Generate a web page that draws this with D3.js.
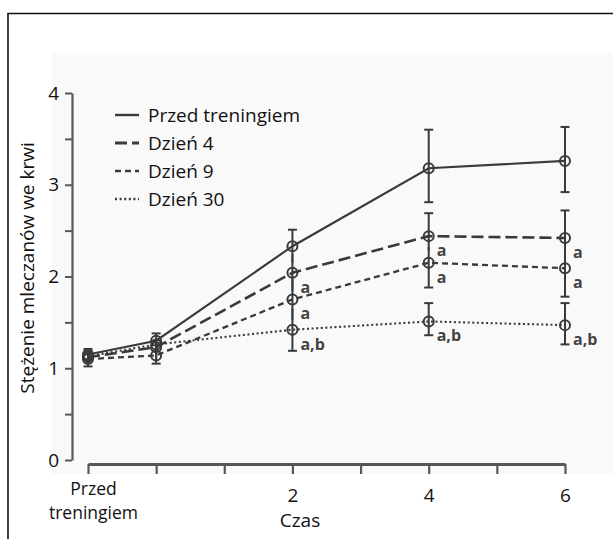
<!DOCTYPE html>
<html>
<head>
<meta charset="utf-8">
<script src="https://cdn.jsdelivr.net/npm/d3@7/dist/d3.min.js"></script>
<style>
  html, body { margin: 0; padding: 0; background: #fff; }
  svg { display: block; }
  text { font-family: "Open Sans", "Noto Sans", sans-serif; fill: #111; }
</style>
</head>
<body>
<script>
// Time points (days; -1 stands for the pre-training measurement)
const days = [-1, 0, 2, 4, 6];

// Blood lactate concentration, one array per group
const przedTreningiem = [1.15, 1.30, 2.33, 3.18, 3.26];
const dzien4 = [1.12, 1.23, 2.04, 2.44, 2.42];
const dzien9 = [1.10, 1.14, 1.75, 2.15, 2.09];
const dzien30 = [1.13, 1.26, 1.42, 1.51, 1.47];

// Error bar bounds (upper / lower) per group
const przedHi = [1.21, 1.38, 2.51, 3.60, 3.63];
const przedLo = [1.08, 1.20, 2.15, 2.81, 2.92];
const d4Hi = [1.18, 1.30, 2.24, 2.69, 2.72];
const d4Lo = [1.05, 1.14, 1.84, 2.28, 2.24];
const d9Hi = [1.17, 1.22, 1.97, 2.32, 2.28];
const d9Lo = [1.02, 1.05, 1.53, 1.88, 1.78];
const d30Hi = [1.19, 1.32, 1.65, 1.71, 1.71];
const d30Lo = [1.06, 1.10, 1.19, 1.36, 1.26];

// Significance markers
const d4Sig = [null, null, "a", "a", "a"];
const d9Sig = [null, null, "a", "a", "a"];
const d30Sig = [null, null, "a,b", "a,b", "a,b"];

// Axis ticks
const xTicks = [-1, 0, 1, 2, 3, 4, 5, 6];
const xTickLabels = { "-1": ["Przed", "treningiem"], "2": ["2"], "4": ["4"], "6": ["6"] };
const yTicks = [0, 0.5, 1, 1.5, 2, 2.5, 3, 3.5, 4];
const yTickLabels = [0, 1, 2, 3, 4];

const legendNames = ["Przed treningiem", "Dzień 4", "Dzień 9", "Dzień 30"];

const series = [
  { name: legendNames[0], values: przedTreningiem, hi: przedHi, lo: przedLo, sig: null, dash: null, width: 2.1 },
  { name: legendNames[1], values: dzien4, hi: d4Hi, lo: d4Lo, sig: d4Sig, dash: "12,5", width: 2.6 },
  { name: legendNames[2], values: dzien9, hi: d9Hi, lo: d9Lo, sig: d9Sig, dash: "6,4", width: 2.3 },
  { name: legendNames[3], values: dzien30, hi: d30Hi, lo: d30Lo, sig: d30Sig, dash: "2,2.6", width: 2.1 }
];

const W = 613, H = 539;
const ink = "#3a3a3a";
const axisInk = "#585858";
const font = "'Open Sans', sans-serif";

const svg = d3.select("body").append("svg").attr("width", W).attr("height", H);

// light grey plate behind the plot
svg.append("rect").attr("x", 52).attr("y", 53).attr("width", W - 52).attr("height", 421)
  .attr("fill", "#f9f9f9");

// frame (top and left edges)
svg.append("path").attr("d", `M8,${H} V13.5 H${W}`).attr("fill", "none")
  .attr("stroke", "#111").attr("stroke-width", 1.6);

const x = d3.scaleLinear().domain([-1, 6]).range([88, 565]);
const y = d3.scaleLinear().domain([0, 4]).range([460, 93]);

// Y axis
const yAxis = svg.append("g").attr("transform", "translate(72,0)")
  .call(d3.axisLeft(y).tickValues(yTicks).tickSize(7).tickSizeOuter(0)
    .tickFormat(d => yTickLabels.includes(d) ? d3.format("d")(d) : ""));
yAxis.select(".domain").attr("stroke", axisInk).attr("stroke-width", 2.2);
yAxis.selectAll(".tick line").attr("stroke", axisInk).attr("stroke-width", 2);
yAxis.selectAll(".tick text").attr("x", -13).attr("font-size", 19)
  .style("font-family", font).attr("fill", "#111");

// X axis
const xAxis = svg.append("g").attr("transform", "translate(0,464)")
  .call(d3.axisBottom(x).tickValues(xTicks).tickSize(10).tickSizeOuter(0).tickFormat(""));
xAxis.select(".domain").attr("stroke", axisInk).attr("stroke-width", 3);
xAxis.selectAll(".tick line").attr("stroke", axisInk).attr("stroke-width", 2.2);
xAxis.selectAll(".tick").each(function(d) {
  const lines = xTickLabels[String(d)];
  if (!lines) return;
  const multi = lines.length > 1;
  lines.forEach((s, i) => {
    d3.select(this).append("text")
      .attr("text-anchor", "middle").attr("font-size", multi ? 17.5 : 19)
      .style("font-family", font).attr("fill", "#111")
      .attr("x", multi ? 5 : 0).attr("y", (multi ? 31 : 38) + i * 24)
      .text(s);
  });
});

svg.append("text").attr("x", 300).attr("y", 527).attr("text-anchor", "middle")
  .attr("font-size", 19).text("Czas");

svg.append("text")
  .attr("transform", "translate(34,268) rotate(-90)")
  .attr("text-anchor", "middle").attr("font-size", 19)
  .text("Stężenie mleczanów we krwi");

// Error bars; a cap is drawn only where the bar end is not covered by another group's bar
const eb = svg.append("g");
days.forEach((d, i) => {
  const ranges = series.map(s => [s.lo[i], s.hi[i]]);
  const covered = (v, k) => ranges.some((r, j) => j !== k && v > r[0] && v < r[1]);
  series.forEach((s, k) => {
    eb.append("line").attr("x1", x(d)).attr("x2", x(d))
      .attr("y1", y(s.lo[i])).attr("y2", y(s.hi[i]))
      .attr("stroke", ink).attr("stroke-width", 2);
    [s.lo[i], s.hi[i]].forEach(v => {
      if (covered(v, k)) return;
      eb.append("line").attr("x1", x(d) - 4.5).attr("x2", x(d) + 4.5)
        .attr("y1", y(v)).attr("y2", y(v))
        .attr("stroke", ink).attr("stroke-width", 2);
    });
  });
});

// Lines
const line = d3.line().x((v, i) => x(days[i])).y(v => y(v));
series.forEach(s => {
  svg.append("path").datum(s.values).attr("d", line)
    .attr("fill", "none").attr("stroke", ink).attr("stroke-width", s.width)
    .attr("stroke-dasharray", s.dash);
});

// Markers
series.forEach(s => {
  svg.append("g").selectAll("circle").data(s.values).join("circle")
    .attr("cx", (v, i) => x(days[i])).attr("cy", v => y(v)).attr("r", 5)
    .attr("fill", "none").attr("stroke", ink).attr("stroke-width", 2);
});

// Significance labels
series.forEach(s => {
  if (!s.sig) return;
  s.sig.forEach((lab, i) => {
    if (!lab) return;
    svg.append("text").attr("x", x(days[i]) + 8).attr("y", y(s.values[i]) + 20)
      .attr("font-size", 16).attr("font-weight", 700)
      .style("fill", "#444").text(lab);
  });
});

// Legend
const lg = svg.append("g");
const legendY = [115, 143, 171, 199];
series.forEach((s, k) => {
  lg.append("line").attr("x1", 115).attr("x2", 139)
    .attr("y1", legendY[k]).attr("y2", legendY[k])
    .attr("stroke", ink).attr("stroke-width", s.width + 0.3).attr("stroke-dasharray", s.dash);
  lg.append("text").attr("x", 148).attr("y", legendY[k]).attr("dy", "0.35em")
    .attr("font-size", 19).text(s.name);
});
</script>
</body>
</html>
